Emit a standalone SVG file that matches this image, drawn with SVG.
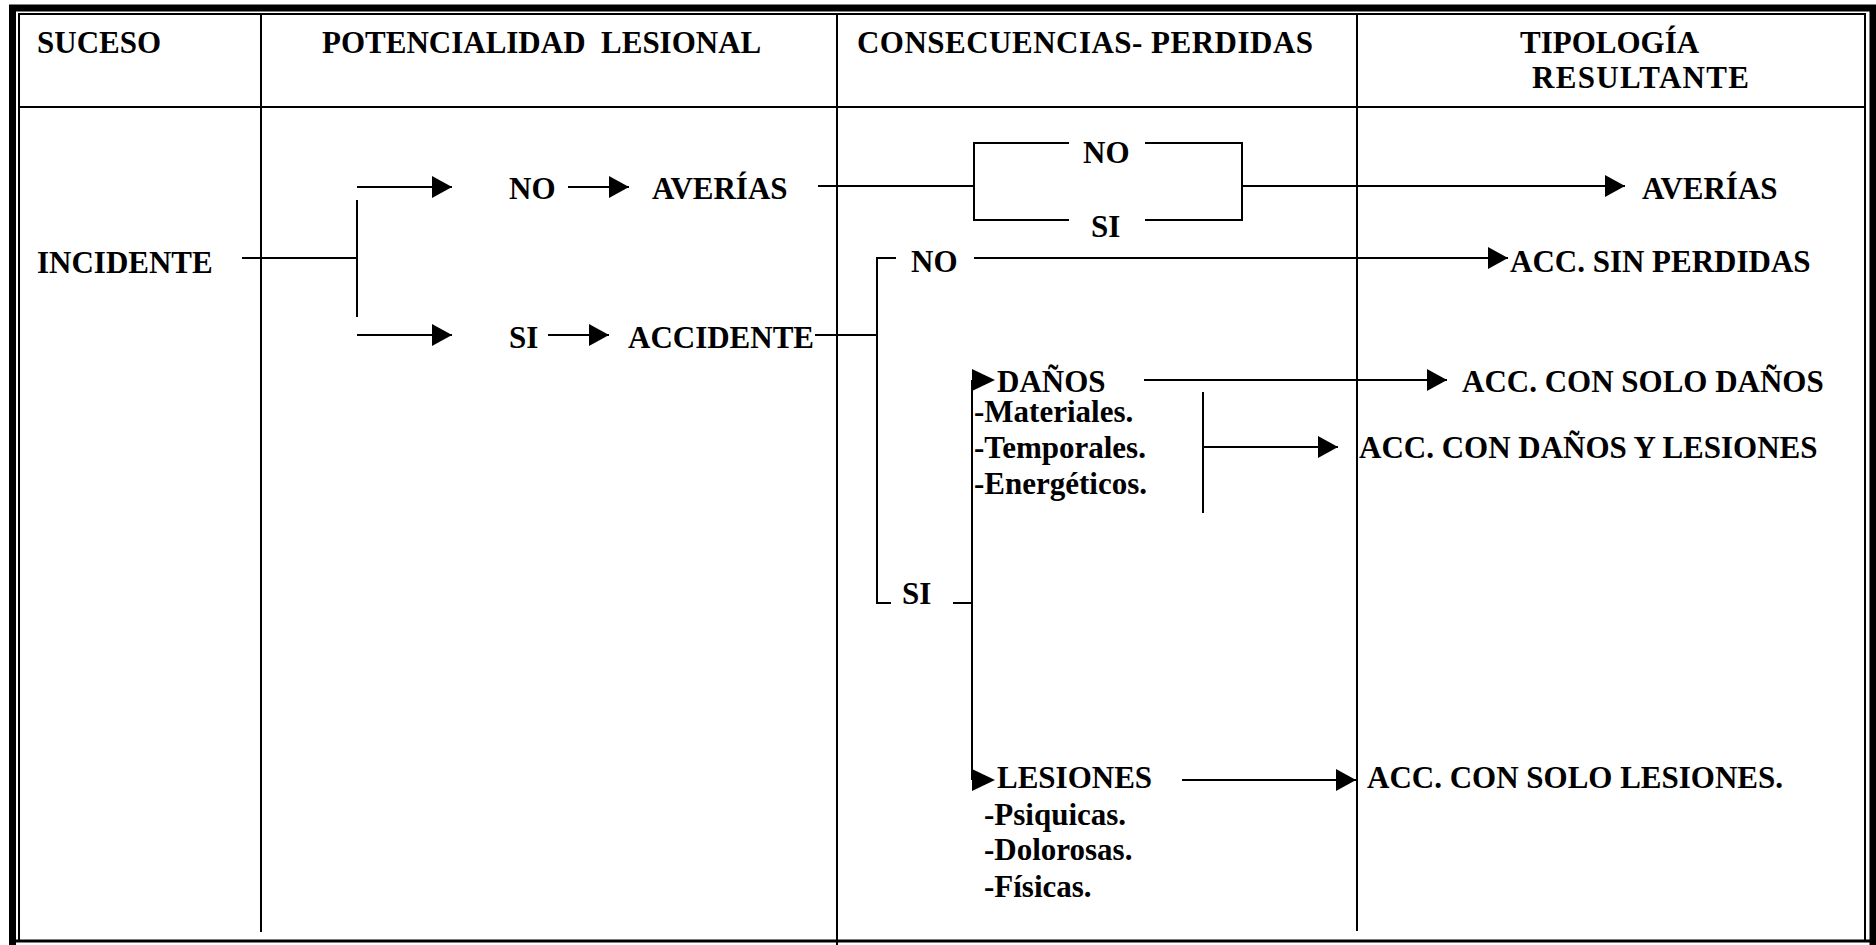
<svg xmlns="http://www.w3.org/2000/svg" width="1876" height="945" viewBox="0 0 1876 945">
<style>
text{font-family:"Liberation Serif","Times New Roman",serif;font-weight:bold;font-size:31px;fill:#000;white-space:pre}
.frame{fill:none;stroke:#000}
.grid{fill:none;stroke:#000;stroke-width:2}
.ln{fill:none;stroke:#000;stroke-width:2}
.ah{fill:#000}
</style>
<defs>
<marker id="arr" markerUnits="userSpaceOnUse" markerWidth="20" markerHeight="22" refX="20" refY="11" orient="auto">
<path d="M0,0 L20,11 L0,22 z" fill="#000"/>
</marker>
</defs>
<rect width="1876" height="945" fill="#fff"/>
<g id="table">
<path class="frame" stroke-width="7" d="M12.5,945 V8 H1873 V945"/>
<rect class="frame" stroke-width="2" x="19" y="14" width="1846" height="927"/>
<line class="frame" stroke-width="3" x1="12" y1="941" x2="1876" y2="941"/>
<line class="grid" x1="19" y1="107" x2="1865" y2="107"/>
<line class="grid" x1="261" y1="14" x2="261" y2="932"/>
<line class="grid" x1="837" y1="14" x2="837" y2="945"/>
<line class="grid" x1="1357" y1="14" x2="1357" y2="931"/>
</g>
<g id="headers">
<text x="37" y="53">SUCESO</text>
<text x="322" y="53">POTENCIALIDAD  LESIONAL</text>
<text x="857" y="53" textLength="456" lengthAdjust="spacing">CONSECUENCIAS- PERDIDAS</text>
<text x="1520" y="53">TIPOLOGÍA</text>
<text x="1532" y="88" textLength="217" lengthAdjust="spacing">RESULTANTE</text>
</g>
<g id="incidente"><text x="37" y="273">INCIDENTE</text></g>
<g id="no-averias"><text x="509" y="199">NO</text><text x="652" y="199">AVERÍAS</text></g>
<g id="si-accidente"><text x="509" y="348">SI</text><text x="628" y="348">ACCIDENTE</text></g>
<g id="box-no-si"><text x="1083" y="163">NO</text><text x="1091" y="237">SI</text></g>
<g id="res-averias"><text x="1642" y="199">AVERÍAS</text></g>
<g id="cons-no"><text x="911" y="272">NO</text></g>
<g id="res-sin-perdidas"><text x="1510" y="272">ACC. SIN PERDIDAS</text></g>
<g id="danos"><text x="997" y="392">DAÑOS</text><text x="974" y="422">-Materiales.</text><text x="974" y="458">-Temporales.</text><text x="974" y="494">-Energéticos.</text></g>
<g id="res-solo-danos"><text x="1462" y="392">ACC. CON SOLO DAÑOS</text></g>
<g id="res-danos-lesiones"><text x="1359" y="458">ACC. CON DAÑOS Y LESIONES</text></g>
<g id="cons-si"><text x="902" y="604">SI</text></g>
<g id="lesiones"><text x="997" y="788">LESIONES</text><text x="984" y="825">-Psiquicas.</text><text x="984" y="860">-Dolorosas.</text><text x="984" y="897">-Físicas.</text></g>
<g id="res-solo-lesiones"><text x="1367" y="788">ACC. CON SOLO LESIONES.</text></g>
<g id="connectors">
<path class="ln" d="M242,258 H357"/>
<path class="ln" d="M357,200 V317"/>
<path class="ln" d="M357,187 H452" marker-end="url(#arr)"/>
<path class="ln" d="M357,335 H452" marker-end="url(#arr)"/>
<path class="ln" d="M568,187 H629" marker-end="url(#arr)"/>
<path class="ln" d="M548,335 H609" marker-end="url(#arr)"/>
<path class="ln" d="M818,186 H974"/>
<path class="ln" d="M1069,143 H974 V220 H1069"/>
<path class="ln" d="M1145,143 H1242 V220 H1145"/>
<path class="ln" d="M1242,186 H1625" marker-end="url(#arr)"/>
<path class="ln" d="M815,335 H877"/>
<path class="ln" d="M896,258 H877 V603 H891"/>
<path class="ln" d="M974,258 H1508" marker-end="url(#arr)"/>
<path class="ln" d="M953,603 H972 V780"/>
<path class="ln" d="M972,380 V603"/>
<polygon class="ah" points="972,369 995,380 972,391"/>
<polygon class="ah" points="972,769 995,780 972,791"/>
<path class="ln" d="M1144,380 H1447" marker-end="url(#arr)"/>
<path class="ln" d="M1203,392 V513"/>
<path class="ln" d="M1203,447 H1338" marker-end="url(#arr)"/>
<path class="ln" d="M1182,780 H1356" marker-end="url(#arr)"/>
</g>
</svg>
